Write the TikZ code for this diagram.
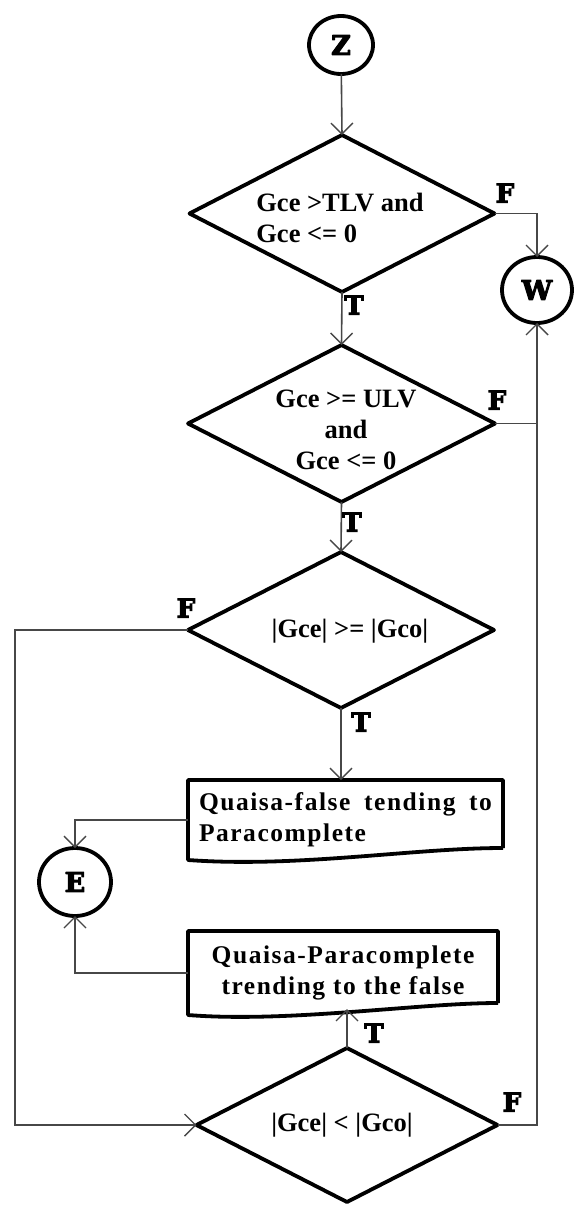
\documentclass[tikz,border=0pt]{standalone}
\usepackage{fontspec}
\setmainfont{Liberation Serif}
\newfontfamily\lblfont[BoldFeatures={FakeBold=4}]{DejaVu Serif}
\newfontfamily\boxfont[LetterSpace=6]{Liberation Serif}
\usetikzlibrary{shapes.geometric,arrows.meta}
\begin{document}
\begin{tikzpicture}[x=1pt,y=-1pt,
  every node/.style={inner sep=0pt, outer sep=0pt},
  shapeline/.style={draw=black, line width=3.8pt, line join=round},
  decision/.style={shapeline, diamond, aspect=2},
  term/.style={shapeline, ellipse, font=\lblfont\bfseries\fontsize{27}{30}\selectfont},
  dtext/.style={font=\fontsize{26.5}{31}\selectfont\bfseries, align=center},
  btext/.style={font=\boxfont\fontsize{25.5}{31}\selectfont\bfseries},
  tf/.style={font=\lblfont\bfseries\fontsize{26}{28}\selectfont},
  conn/.style={draw=black!72, line width=1.6pt, -{Straight Barb[length=11pt,width=22pt,line width=1.4pt]}},
  plain/.style={draw=black!72, line width=1.6pt}
]
\useasboundingbox (0,0) rectangle (573,1207);

% terminals
\node[term, minimum width=64pt, minimum height=58pt] (Z) at (341,45) {Z};
\node[term, minimum width=70pt, minimum height=66pt] (W) at (537,290) {W};
\node[term, minimum width=72pt, minimum height=68pt] (E) at (75,882) {E};

% decisions
\node[decision, minimum width=305pt, minimum height=157pt] (d1) at (342,213.5) {};
\node[dtext, align=left] (d1t) at (340,218) {Gce >TLV and\\Gce <= 0};
\node[decision, minimum width=307pt, minimum height=157pt] (d2) at (341.5,423.5) {};
\node[dtext] (d2t) at (346,430) {Gce >= ULV\\and\\Gce <= 0};
\node[decision, minimum width=306pt, minimum height=156pt] (d3) at (341,630) {};
\node[dtext] (d3t) at (350,631) {|Gce| >= |Gco|};
\node[decision, minimum width=301pt, minimum height=154pt] (d4) at (347,1125) {};
\node[dtext] (d4t) at (342,1125) {|Gce| < |Gco|};

% process boxes
\node[btext, minimum width=315pt, minimum height=80pt, inner xsep=11pt, text width=293pt, align=left] (b1) at (345.5,820)
  {\makebox[293pt][l]{Quaisa-false\hfill tending\hfill to}\\Paracomplete};
\draw[shapeline] ([yshift=12pt]b1.south east) -- (b1.north east) -- (b1.north west) -- (b1.south west)
  .. controls +(110,8) and +(-90,0) .. ([yshift=12pt]b1.south east);
\node[btext, minimum width=310pt, minimum height=84pt, align=center] (b2) at (343,973)
  {Quaisa-Paracomplete\\trending to the false};
\draw[shapeline] ([yshift=12pt]b2.south east) -- (b2.north east) -- (b2.north west) -- (b2.south west)
  .. controls +(100,8) and +(-80,0) .. ([yshift=12pt]b2.south east);
\coordinate (b2in) at (347,1009);

% connectors
\draw[conn] (Z) -- (d1.north);
\draw[conn] (d1.south) -- (d2.north);
\draw[conn] (d1.east) -| (W.north);
\draw[conn] (d2.south) -- (d3.north);
\draw[plain] (d2.east) -- (d2.east -| W.south);
\draw[conn] (d4.east) -| (W.south);
\draw[conn] (d3.west) -- ++(-173,0) |- (d4.west);
\draw[conn] (d3.south) -- (b1.north -| d3.south);
\draw[conn] (b1.west) -| (E.north);
\draw[conn] (d4.north) -- (b2in);
\draw[conn] (b2.west) -| (E.south);

% labels
\node[tf] (F1) at (505,193) {F};
\node[tf] (T1) at (354,305) {T};
\node[tf] (F2) at (497,400) {F};
\node[tf] (T2) at (352,522) {T};
\node[tf] (F3) at (186,608) {F};
\node[tf] (T3) at (361,722) {T};
\node[tf] (T4) at (374,1033) {T};
\node[tf] (F4) at (512,1102) {F};
\end{tikzpicture}
\end{document}
